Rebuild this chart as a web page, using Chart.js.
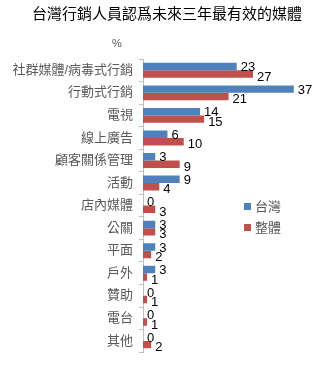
<!DOCTYPE html>
<html>
<head>
<meta charset="utf-8">
<script src="https://cdn.jsdelivr.net/npm/chart.js@4/dist/chart.umd.min.js"></script>
<style>
  html, body { margin: 0; padding: 0; background: #fff; }
  #wrap { position: relative; width: 325px; height: 366px; }
  .legend { position: absolute; left: 244px; font: 13px "Liberation Sans", "Noto Sans CJK TC", sans-serif; color: #595959; }
  .legend span { display: inline-block; width: 7px; height: 7px; margin-right: 4px; vertical-align: 1px; }
</style>
</head>
<body>
<div id="wrap">
  <canvas id="grafico" width="325" height="366"></canvas>
  <div class="legend" style="top:196px"><span style="background:#4F81BD"></span>台灣</div>
  <div class="legend" style="top:217px"><span style="background:#C0504D"></span>整體</div>
</div>
<script>
const categorias = ['社群媒體/病毒式行銷', '行動式行銷', '電視', '線上廣告', '顧客關係管理', '活動', '店內媒體', '公關', '平面', '戶外', '贊助', '電台', '其他'];
const taiwan = [23, 37, 14, 6, 3, 9, 0, 3, 3, 3, 0, 0, 0];
const geral = [27, 21, 15, 10, 9, 4, 3, 3, 2, 1, 1, 1, 2];

const fonte = '"Liberation Sans", "Noto Sans CJK TC", sans-serif';

// rótulos de valor no fim de cada barra + título e unidade
const rotulos = {
  id: 'rotulos',
  afterDatasetsDraw(chart) {
    const ctx = chart.ctx;
    ctx.save();
    ctx.fillStyle = '#000';
    ctx.font = '13px ' + fonte;
    ctx.textBaseline = 'middle';
    chart.data.datasets.forEach((ds, i) => {
      chart.getDatasetMeta(i).data.forEach((bar, j) => {
        ctx.fillText(ds.data[j], bar.x + 4, bar.y + (i === 0 ? 1 : 3));
      });
    });
    ctx.textAlign = 'center';
    ctx.font = '15px ' + fonte;
    ctx.fillText('台灣行銷人員認爲未來三年最有效的媒體', 167, 15);
    ctx.font = '11px ' + fonte;
    ctx.fillStyle = '#595959';
    ctx.fillText('%', 117, 44);
    ctx.restore();
  }
};

new Chart(document.getElementById('grafico').getContext('2d'), {
  type: 'bar',
  data: {
    labels: categorias,
    datasets: [
      { label: '台灣', data: taiwan, backgroundColor: '#4F81BD', categoryPercentage: 0.66, barPercentage: 1 },
      { label: '整體', data: geral, backgroundColor: '#C0504D', categoryPercentage: 0.66, barPercentage: 1 }
    ]
  },
  options: {
    indexAxis: 'y',
    responsive: false,
    animation: false,
    layout: { padding: { top: 59, bottom: 5, right: 19, left: 0 } },
    plugins: { legend: { display: false }, title: { display: false }, tooltip: { enabled: false } },
    scales: {
      x: { display: false, min: 0, max: 40 },
      y: {
        afterFit(scale) { scale.width = 143; },
        border: { display: true, color: '#BFBFBF' },
        grid: { drawOnChartArea: false, drawTicks: true, tickLength: 4, color: '#BFBFBF', offset: true },
        ticks: { color: '#595959', font: { size: 13, family: fonte }, padding: 6 }
      }
    }
  },
  plugins: [rotulos]
});
</script>
</body>
</html>
